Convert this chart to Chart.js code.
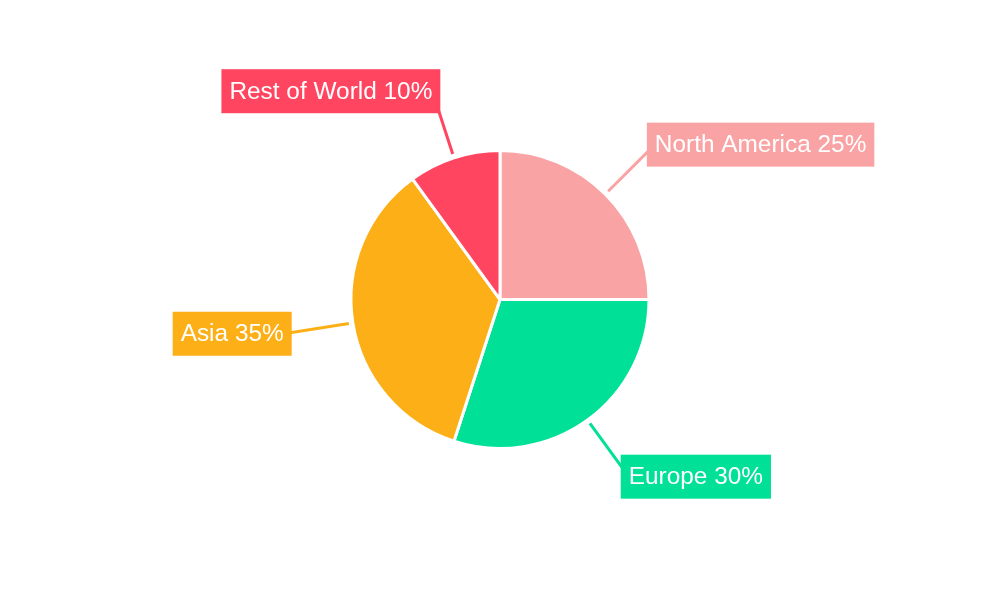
<!DOCTYPE html>
<html lang="en">
<head>
  <meta charset="UTF-8">
  <title>Regional Share</title>
  <script src="https://cdn.jsdelivr.net/npm/chart.js"></script>
  <style>
    html, body { margin: 0; padding: 0; background: #fff; }
    #wrap { width: 1000px; height: 600px; }
  </style>
</head>
<body>
<div id="wrap"><canvas id="regionChart"></canvas></div>

<script>
  const regions = ['North America', 'Europe', 'Asia', 'Rest of World'];
  const shares = [25, 30, 35, 10];
  const colors = ['#f9a3a4', '#00e096', '#fcaf17', '#ff4560'];

  // leader lines + boxed labels outside each slice
  const calloutPlugin = {
    id: 'callouts',
    afterDatasetsDraw(chart) {
      const ctx = chart.ctx;
      const meta = chart.getDatasetMeta(0);
      ctx.save();
      ctx.font = '24.4px "Liberation Sans", Arial, sans-serif';
      ctx.textBaseline = 'middle';
      meta.data.forEach((arc, i) => {
        const p = arc.getProps(['x', 'y', 'startAngle', 'endAngle', 'outerRadius']);
        const mid = (p.startAngle + p.endAngle) / 2;
        const cos = Math.cos(mid), sin = Math.sin(mid);
        const r = p.outerRadius;
        const sx = p.x + cos * (r + 4), sy = p.y + sin * (r + 4);
        const ax = p.x + cos * (r + 70), ay = p.y + sin * (r + 70);

        ctx.strokeStyle = colors[i];
        ctx.lineWidth = 3;
        ctx.beginPath();
        ctx.moveTo(sx, sy);
        ctx.lineTo(ax, ay);
        ctx.stroke();

        const text = regions[i] + ' ' + shares[i] + '%';
        const tw = ctx.measureText(text).width;
        const padX = 8, h = 44;
        const right = cos >= 0;
        const tx = right ? ax : ax - tw;
        ctx.fillStyle = colors[i];
        ctx.fillRect(tx - padX, ay - h / 2, tw + padX * 2, h);
        ctx.fillStyle = '#fff';
        ctx.textAlign = 'left';
        ctx.fillText(text, tx, ay + 1);
      });
      ctx.restore();
    }
  };

  new Chart(document.getElementById('regionChart'), {
    type: 'pie',
    data: {
      labels: regions,
      datasets: [{
        data: shares,
        backgroundColor: colors,
        borderColor: '#ffffff',
        borderWidth: 3,
        hoverOffset: 0
      }]
    },
    options: {
      responsive: true,
      maintainAspectRatio: false,
      animation: false,
      layout: { padding: { top: 149, bottom: 150 } },
      plugins: {
        legend: { display: false },
        tooltip: { enabled: false }
      }
    },
    plugins: [calloutPlugin]
  });
</script>
</body>
</html>
